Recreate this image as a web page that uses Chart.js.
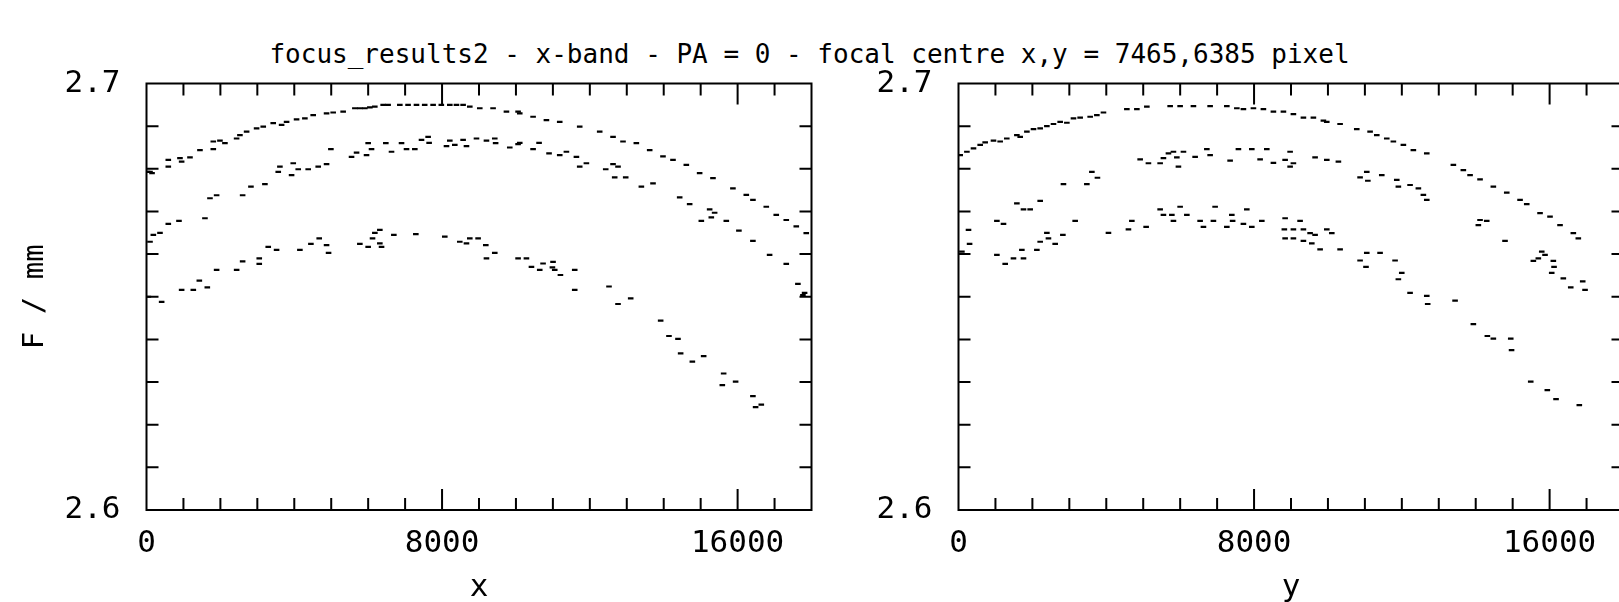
<!DOCTYPE html>
<html>
<head>
<meta charset="utf-8">
<script src="https://cdn.jsdelivr.net/npm/chart.js@4.4.0/dist/chart.umd.min.js"></script>
<style>
  html, body { margin: 0; padding: 0; background: #fff; overflow: hidden; }
  #page { position: relative; width: 1619px; height: 602px; overflow: hidden; }
  #title { position: absolute; left: 0; top: 39px; width: 1619px; text-align: center;
           font: 26px "DejaVu Sans Mono"; line-height: 30px; white-space: pre; color: #000; }
  canvas { position: absolute; top: 0; }
</style>
</head>
<body>
<div id="page">
  <div id="title">focus_results2 - x-band - PA = 0 - focal centre x,y = 7465,6385 pixel</div>
  <canvas id="left" width="830" height="602" style="left:0"></canvas>
  <canvas id="right" width="830" height="602" style="left:830px"></canvas>
</div>
<script>
// tick labels
const xTickLabels = [0, 8000, 16000];
const yTickLabels = [2.6, 2.7];

// F (mm) against x pixel, three focus bands
const xTop = [
    [30, 2.6793], [95, 2.6793], [150, 2.6790], [590, 2.6805], [590, 2.6821], [906, 2.6825], [951, 2.6817],
    [1177, 2.6827], [1447, 2.6844], [1808, 2.6864], [1808, 2.6846], [1988, 2.6866], [2123, 2.6860],
    [2439, 2.6871], [2529, 2.6879], [2710, 2.6887], [2980, 2.6895], [3160, 2.6899], [3430, 2.6907],
    [3657, 2.6903], [3792, 2.6910], [4062, 2.6916], [4287, 2.6918], [4512, 2.6926], [4874, 2.6930],
    [5053, 2.6932], [5323, 2.6934], [5640, 2.6942], [5775, 2.6942], [5910, 2.6942], [6046, 2.6944],
    [6180, 2.6946], [6406, 2.6950], [6540, 2.6950], [6857, 2.6950], [7080, 2.6950], [7308, 2.6950],
    [7530, 2.6950], [7758, 2.6950], [7980, 2.6950], [8210, 2.6950], [8390, 2.6950], [8570, 2.6950],
    [8751, 2.6946], [9021, 2.6942], [9381, 2.6942], [9743, 2.6934], [10058, 2.6934], [10103, 2.6930],
    [10464, 2.6922], [10825, 2.6914], [11185, 2.6910], [11726, 2.6899], [12267, 2.6887], [12628, 2.6875],
    [12898, 2.6864], [13259, 2.6860], [13620, 2.6844], [13980, 2.6829], [14251, 2.6821], [14612, 2.6809],
    [14972, 2.6790], [15333, 2.6778], [15873, 2.6754], [16235, 2.6739], [16415, 2.6727], [16776, 2.6711],
    [17046, 2.6692], [17317, 2.6680], [17588, 2.6665], [17858, 2.6649]
];
const xMid = [
    [95, 2.6629], [185, 2.6645], [365, 2.6650], [590, 2.6671], [879, 2.6678], [1582, 2.6684], [1718, 2.6731],
    [1898, 2.6738], [2602, 2.6738], [2827, 2.6758], [3205, 2.6764], [3566, 2.6793], [3611, 2.6805],
    [3927, 2.6785], [3972, 2.6813], [4107, 2.6799], [4377, 2.6799], [4648, 2.6805], [4874, 2.6811],
    [4991, 2.6846], [5550, 2.6828], [5686, 2.6838], [5956, 2.6832], [6000, 2.6860], [6091, 2.6846],
    [6478, 2.6860], [6632, 2.6840], [6903, 2.6860], [7038, 2.6846], [7263, 2.6846], [7444, 2.6868],
    [7623, 2.6875], [7650, 2.6861], [8120, 2.6853], [8210, 2.6866], [8345, 2.6856], [8570, 2.6868],
    [8661, 2.6853], [8932, 2.6871], [9202, 2.6866], [9427, 2.6871], [9450, 2.6860], [9833, 2.6850],
    [10058, 2.6858], [10103, 2.6861], [10464, 2.6846], [10626, 2.6861], [10896, 2.6836], [11185, 2.6832],
    [11366, 2.6840], [11637, 2.6828], [11726, 2.6805], [11907, 2.6813], [12430, 2.6799], [12628, 2.6811],
    [12763, 2.6805], [12673, 2.6780], [12971, 2.6780], [13395, 2.6758], [13710, 2.6766], [14432, 2.6733],
    [14702, 2.6717], [15018, 2.6678], [15243, 2.6705], [15378, 2.6697], [15288, 2.6686], [15694, 2.6678],
    [16035, 2.6655], [16414, 2.6631], [16866, 2.6598], [17317, 2.6577], [17632, 2.6530], [17813, 2.6509],
    [17768, 2.6504]
];
const xLow = [
    [50, 2.6500], [410, 2.6488], [951, 2.6516], [1267, 2.6516], [1430, 2.6538], [1646, 2.6522], [1898, 2.6563],
    [2440, 2.6563], [2602, 2.6583], [3052, 2.6590], [3052, 2.6577], [3295, 2.6617], [3521, 2.6610],
    [4152, 2.6610], [4450, 2.6624], [4675, 2.6637], [4874, 2.6621], [4928, 2.6603], [5775, 2.6624],
    [6000, 2.6617], [6118, 2.6637], [6181, 2.6650], [6316, 2.6657], [6316, 2.6625], [6362, 2.6617],
    [6695, 2.6645], [7290, 2.6647], [8074, 2.6641], [8480, 2.6629], [8661, 2.6625], [8751, 2.6637],
    [8976, 2.6637], [9184, 2.6621], [9202, 2.6590], [9427, 2.6603], [10058, 2.6590], [10284, 2.6590],
    [10420, 2.6570], [10734, 2.6578], [10644, 2.6563], [11004, 2.6582], [10987, 2.6569], [11050, 2.6563],
    [11204, 2.6551], [11591, 2.6563], [11591, 2.6516], [12519, 2.6524], [12763, 2.6483], [13106, 2.6496],
    [13917, 2.6444], [14142, 2.6408], [14386, 2.6401], [14458, 2.6367], [14775, 2.6348], [15081, 2.6361],
    [15622, 2.6320], [15586, 2.6293], [15946, 2.6301], [16414, 2.6267], [16487, 2.6241], [16641, 2.6247]
];

// F (mm) against y pixel
const yTop = [
    [46, 2.6832], [227, 2.6840], [406, 2.6848], [587, 2.6856], [722, 2.6862], [947, 2.6866], [1128, 2.6864],
    [1307, 2.6871], [1580, 2.6879], [1670, 2.6875], [1851, 2.6887], [2030, 2.6893], [2211, 2.6895],
    [2392, 2.6900], [2571, 2.6905], [2752, 2.6910], [2933, 2.6908], [3112, 2.6918], [3293, 2.6920],
    [3564, 2.6922], [3745, 2.6926], [3924, 2.6932], [4557, 2.6940], [4828, 2.6940], [5098, 2.6946],
    [5729, 2.6947], [5999, 2.6947], [6359, 2.6947], [6811, 2.6947], [7263, 2.6947], [7534, 2.6942],
    [7712, 2.6940], [7983, 2.6942], [8253, 2.6940], [8524, 2.6934], [8795, 2.6934], [9065, 2.6928],
    [9336, 2.6920], [9606, 2.6920], [9877, 2.6913], [9968, 2.6910], [10329, 2.6905], [10780, 2.6893],
    [11141, 2.6887], [11322, 2.6879], [11592, 2.6871], [11771, 2.6864], [12042, 2.6856], [12312, 2.6844],
    [12675, 2.6836], [13395, 2.6809], [13665, 2.6797], [13847, 2.6785], [14117, 2.6775], [14477, 2.6758],
    [14840, 2.6744], [15200, 2.6727], [15381, 2.6717], [15741, 2.6696], [16011, 2.6688], [16282, 2.6668],
    [16642, 2.6649], [16777, 2.6637]
];
const yMid = [
    [271, 2.6657], [300, 2.6624], [1039, 2.6678], [1218, 2.6671], [1580, 2.6719], [1759, 2.6705],
    [1940, 2.6705], [2211, 2.6725], [2841, 2.6764], [3474, 2.6764], [3610, 2.6793], [3761, 2.6779],
    [4917, 2.6822], [5141, 2.6813], [5458, 2.6813], [5547, 2.6825], [5683, 2.6836], [5818, 2.6840],
    [5910, 2.6827], [5953, 2.6805], [6089, 2.6840], [6405, 2.6828], [6722, 2.6846], [6811, 2.6832],
    [7352, 2.6819], [7577, 2.6846], [7939, 2.6846], [8164, 2.6822], [8345, 2.6846], [8524, 2.6814],
    [8841, 2.6821], [8976, 2.6840], [8976, 2.6805], [9065, 2.6813], [9652, 2.6827], [9969, 2.6821],
    [10283, 2.6817], [10870, 2.6780], [11051, 2.6793], [11080, 2.6772], [11457, 2.6785], [11863, 2.6774],
    [11906, 2.6758], [12223, 2.6762], [12448, 2.6754], [12583, 2.6739], [12675, 2.6727], [14071, 2.6668],
    [14117, 2.6680], [14298, 2.6678], [14793, 2.6631], [15560, 2.6584], [15695, 2.6590], [15787, 2.6606],
    [15876, 2.6598], [16101, 2.6584], [16120, 2.6570], [16057, 2.6556], [16371, 2.6543], [16572, 2.6522],
    [16896, 2.6536], [16959, 2.6516]
];
const yLow = [
    [92, 2.6606], [1039, 2.6598], [1264, 2.6577], [1488, 2.6590], [1715, 2.6610], [1759, 2.6590],
    [2121, 2.6610], [2211, 2.6629], [2392, 2.6650], [2435, 2.6637], [2617, 2.6624], [2825, 2.6645],
    [3158, 2.6678], [4059, 2.6650], [4600, 2.6658], [4692, 2.6678], [5079, 2.6664], [5458, 2.6705],
    [5547, 2.6692], [5775, 2.6692], [5818, 2.6678], [5999, 2.6711], [6181, 2.6692], [6540, 2.6678],
    [6630, 2.6664], [6900, 2.6678], [6946, 2.6711], [7263, 2.6664], [7398, 2.6692], [7420, 2.6678],
    [7712, 2.6671], [7804, 2.6705], [7939, 2.6664], [8210, 2.6678], [8841, 2.6684], [9246, 2.6678],
    [8820, 2.6658], [9065, 2.6658], [9336, 2.6658], [9517, 2.6649], [9652, 2.6645], [9969, 2.6658],
    [10104, 2.6649], [8841, 2.6637], [9065, 2.6637], [9336, 2.6631], [9563, 2.6625], [9788, 2.6611],
    [10329, 2.6611], [11051, 2.6603], [11411, 2.6603], [10870, 2.6585], [11030, 2.6570], [11817, 2.6585],
    [11998, 2.6556], [11906, 2.6541], [12223, 2.6509], [12675, 2.6502], [12700, 2.6483], [13441, 2.6491],
    [13936, 2.6436], [14315, 2.6408], [14477, 2.6402], [14948, 2.6402], [14970, 2.6375], [15489, 2.6301],
    [15938, 2.6281], [16174, 2.6260], [16804, 2.6246]
];

const toPoints = (pairs) => pairs.map(([v, f]) => ({x: v, y: f}));

const tickFont = {family: 'DejaVu Sans Mono', size: 31};

// PGPLOT style box: frame with inward ticks on all four sides
const boxTicks = {
    id: 'boxTicks',
    afterDatasetsDraw(chart) {
        const {ctx, chartArea: a, scales: {x, y}} = chart;
        ctx.save();
        ctx.strokeStyle = '#000';
        ctx.lineWidth = 2;
        ctx.strokeRect(a.left, a.top, a.right - a.left, a.bottom - a.top);
        ctx.beginPath();
        for (let v = 1000; v < 18000; v += 1000) {
            const px = x.getPixelForValue(v);
            const len = xTickLabels.includes(v) ? 21 : 12;
            ctx.moveTo(px, a.bottom); ctx.lineTo(px, a.bottom - len);
            ctx.moveTo(px, a.top); ctx.lineTo(px, a.top + len);
        }
        for (let i = 1; i < 10; i++) {
            const py = y.getPixelForValue(2.6 + i / 100);
            ctx.moveTo(a.left, py); ctx.lineTo(a.left + 12, py);
            ctx.moveTo(a.right, py); ctx.lineTo(a.right - 12, py);
        }
        ctx.stroke();
        ctx.restore();
    }
};

const makePanel = (id, series, xTitle, yTitle, axisWidth, rightPad) => {
    new Chart(document.getElementById(id), {
        type: 'scatter',
        data: {
            datasets: series.map(s => ({data: toPoints(s)}))
        },
        options: {
            responsive: false,
            animation: false,
            events: [],
            layout: {padding: {top: 83.5, right: rightPad, bottom: 0, left: 0}},
            elements: {
                point: {pointStyle: 'line', radius: 2.8, hoverRadius: 2.8, borderWidth: 2.2,
                        borderColor: '#000', backgroundColor: '#000'}
            },
            plugins: {legend: {display: false}, tooltip: {enabled: false}},
            scales: {
                x: {
                    type: 'linear', min: 0, max: 18000,
                    afterBuildTicks: s => { s.ticks = xTickLabels.map(v => ({value: v})); },
                    afterFit: s => { s.height = 92; },
                    grid: {display: false},
                    border: {display: false},
                    ticks: {font: tickFont, color: '#000', padding: 7, maxRotation: 0, autoSkip: false,
                            callback: v => String(v)},
                    title: {display: true, text: xTitle, color: '#000', padding: 0,
                            font: {family: 'DejaVu Sans Mono', size: 31, lineHeight: 0.9}}
                },
                y: {
                    type: 'linear', min: 2.6, max: 2.7,
                    afterBuildTicks: s => { s.ticks = yTickLabels.map(v => ({value: v})); },
                    afterFit: s => { s.width = axisWidth; },
                    grid: {display: false},
                    border: {display: false},
                    ticks: {font: tickFont, color: '#000', padding: 18, callback: v => v.toFixed(1)},
                    title: {display: yTitle !== '', text: yTitle, color: '#000',
                            font: {family: 'DejaVu Sans Mono', size: 29}, padding: {top: 18, bottom: 0}}
                }
            }
        },
        plugins: [boxTicks]
    });
};

makePanel('left', [xTop, xMid, xLow], 'x', 'F / mm', 146.5, 18.5);
makePanel('right', [yTop, yMid, yLow], 'y', '', 128.5, 36.5);
</script>
</body>
</html>
